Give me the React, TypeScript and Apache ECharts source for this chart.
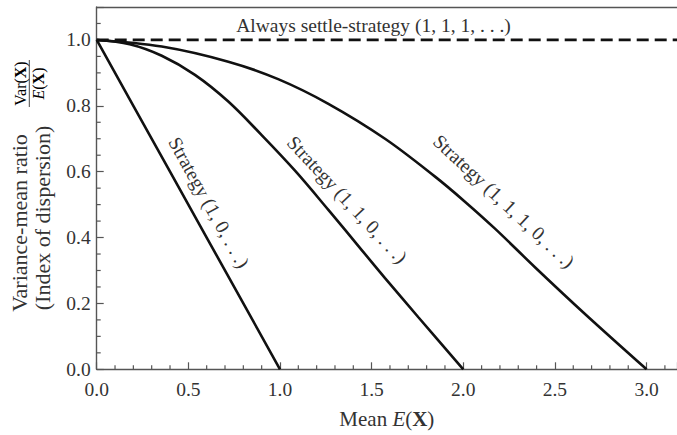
import React, { useEffect, useRef } from "react";
import * as echarts from "echarts";

// ---- data ----
const strategy10X = [0, 0.2, 0.4, 0.6, 0.8, 1.0];
const strategy10Y = [1.0, 0.8, 0.6, 0.4, 0.2, 0.0];

const strategy110X = [0, 0.18, 0.355, 0.536, 0.718, 0.9, 1.082, 1.264, 1.446, 1.573, 1.755, 2.0];
const strategy110Y = [1.0, 0.987, 0.952, 0.894, 0.813, 0.711, 0.603, 0.484, 0.362, 0.277, 0.158, 0.0];

const strategy1110X = [0, 0.355, 0.718, 0.99, 1.264, 1.573, 1.846, 2.009, 2.173, 2.391, 2.664, 3.0];
const strategy1110Y = [1.0, 0.98, 0.934, 0.881, 0.806, 0.7, 0.585, 0.509, 0.427, 0.31, 0.168, 0.0];

const settleX = [0, 3.166];
const settleY = [1.0, 1.0];

const xMajorTicks = [0, 0.5, 1.0, 1.5, 2.0, 2.5, 3.0];
const xMinorTicks = [0.1, 0.2, 0.3, 0.4, 0.6, 0.7, 0.8, 0.9, 1.1, 1.2, 1.3, 1.4, 1.6, 1.7, 1.8, 1.9, 2.1, 2.2, 2.3, 2.4, 2.6, 2.7, 2.8, 2.9, 3.1];
const yMajorTicks = [0, 0.2, 0.4, 0.6, 0.8, 1.0];
const yMinorTicks = [0.05, 0.1, 0.15, 0.25, 0.3, 0.35, 0.45, 0.5, 0.55, 0.65, 0.7, 0.75, 0.85, 0.9, 0.95, 1.05];

const X_MAX = 3.166;
const Y_MAX = 1.1;

const curveLabels = [
  { text: "Strategy (1, 0, . . .)", at: [0.612, 0.506], angle: -61 },
  { text: "Strategy (1, 1, 0, . . .)", at: [1.366, 0.515], angle: -47 },
  { text: "Strategy (1, 1, 1, 0, . . .)", at: [2.221, 0.51], angle: -43 },
];
const settleLabel = { text: "Always settle-strategy (1, 1, 1, . . .)", at: [1.51, 1.045] };

const SERIF = '"Liberation Serif", "DejaVu Serif", serif';
const AXIS_COLOR = "#555";
const TEXT_COLOR = "#333";
const LINE_COLOR = "#111";

const zip = (xs: number[], ys: number[]) => xs.map((x, i) => [x, ys[i]]);

export default function App() {
  const ref = useRef<HTMLDivElement>(null);

  useEffect(() => {
    const chart = echarts.init(ref.current!, null, { renderer: "svg" });

    const curveStyle = { color: LINE_COLOR, width: 2.6 };

    chart.setOption({
      animation: false,
      backgroundColor: "#fff",
      grid: { left: 96.7, top: 7, right: 0, bottom: 65.7, outerBoundsMode: "none" },
      xAxis: [
        {
          type: "value",
          min: 0,
          max: X_MAX,
          interval: 0.5,
          position: "bottom",
          axisLine: { show: true, lineStyle: { color: AXIS_COLOR, width: 1.4 } },
          axisTick: { show: true, inside: true, length: 7, lineStyle: { color: AXIS_COLOR, width: 1.2 } },
          axisLabel: {
            show: true,
            margin: 10,
            color: TEXT_COLOR,
            fontFamily: SERIF,
            fontSize: 19.5,
            formatter: (v: number) => (xMajorTicks.some((t) => Math.abs(t - v) < 1e-6) ? v.toFixed(1) : ""),
          },
          splitLine: { show: false },
          name: "{n|Mean }{i|E}{n|(}{b|X}{n|)}",
          nameLocation: "middle",
          nameGap: 39,
          nameTextStyle: {
            color: TEXT_COLOR,
            fontFamily: SERIF,
            fontSize: 21,
            rich: {
              n: { fontFamily: SERIF, fontSize: 21, color: TEXT_COLOR },
              i: { fontFamily: SERIF, fontSize: 21, fontStyle: "italic", color: TEXT_COLOR },
              b: { fontFamily: SERIF, fontSize: 21, fontWeight: "bold", color: TEXT_COLOR },
            },
          },
        },
        {
          type: "value",
          min: 0,
          max: X_MAX,
          position: "top",
          axisLine: { show: true, lineStyle: { color: AXIS_COLOR, width: 1.4 } },
          axisTick: { show: false },
          axisLabel: { show: false },
          splitLine: { show: false },
        },
      ],
      yAxis: {
        type: "value",
        min: 0,
        max: Y_MAX,
        interval: 0.2,
        axisLine: { show: true, lineStyle: { color: AXIS_COLOR, width: 1.4 } },
        axisTick: { show: true, inside: true, length: 7, lineStyle: { color: AXIS_COLOR, width: 1.2 } },
        axisLabel: {
          show: true,
          margin: 6,
          color: TEXT_COLOR,
          fontFamily: SERIF,
          fontSize: 19.5,
          formatter: (v: number) => (yMajorTicks.some((t) => Math.abs(t - v) < 1e-6) ? v.toFixed(1) : ""),
        },
        splitLine: { show: false },
      },
      series: [
        {
          type: "line",
          data: zip(settleX, settleY),
          symbol: "none",
          lineStyle: { color: LINE_COLOR, width: 2.8, type: [12, 6] },
          z: 3,
        },
        {
          type: "line",
          data: zip(strategy10X, strategy10Y),
          symbol: "none",
          lineStyle: curveStyle,
          z: 4,
        },
        {
          type: "line",
          data: zip(strategy110X, strategy110Y),
          symbol: "none",
          smooth: 0.35,
          lineStyle: curveStyle,
          z: 4,
        },
        {
          type: "line",
          data: zip(strategy1110X, strategy1110Y),
          symbol: "none",
          smooth: 0.35,
          lineStyle: curveStyle,
          z: 4,
        },
        {
          type: "custom",
          silent: true,
          clip: false,
          z: 6,
          data: xMinorTicks.map((v) => [v, 0]),
          renderItem: (_p: any, api: any) => {
            const p = api.coord([api.value(0), 0]);
            return {
              type: "line",
              shape: { x1: p[0], y1: p[1], x2: p[0], y2: p[1] - 4 },
              style: { stroke: AXIS_COLOR, lineWidth: 1.2 },
            };
          },
        },
        {
          type: "custom",
          silent: true,
          clip: false,
          z: 6,
          data: yMinorTicks.map((v) => [0, v]),
          renderItem: (_p: any, api: any) => {
            const p = api.coord([0, api.value(1)]);
            return {
              type: "line",
              shape: { x1: p[0], y1: p[1], x2: p[0] + 4, y2: p[1] },
              style: { stroke: AXIS_COLOR, lineWidth: 1.2 },
            };
          },
        },
      ],
    });

    const toPx = (c: number[]) => chart.convertToPixel({ gridIndex: 0 }, c) as number[];

    const graphics: any[] = [];
    curveLabels.forEach((l) => {
      const p = toPx(l.at);
      graphics.push({
        type: "text",
        x: p[0],
        y: p[1],
        rotation: (l.angle * Math.PI) / 180,
        z: 10,
        style: {
          text: l.text,
          font: `19.5px ${SERIF}`,
          fill: TEXT_COLOR,
          align: "center",
          verticalAlign: "middle",
        },
      });
    });
    const sp = toPx(settleLabel.at);
    graphics.push({
      type: "text",
      x: sp[0],
      y: sp[1],
      z: 10,
      style: {
        text: settleLabel.text,
        font: `19.5px ${SERIF}`,
        fill: TEXT_COLOR,
        align: "center",
        verticalAlign: "middle",
      },
    });

    // y-axis title (rotated)
    const rot = Math.PI / 2;
    graphics.push(
      {
        type: "text",
        x: 19.5,
        y: 223,
        rotation: rot,
        style: { text: "Variance-mean ratio", font: `22px ${SERIF}`, fill: TEXT_COLOR, align: "center", verticalAlign: "middle" },
      },
      {
        type: "text",
        x: 42,
        y: 218,
        rotation: rot,
        style: { text: "(Index of dispersion)", font: `22px ${SERIF}`, fill: TEXT_COLOR, align: "center", verticalAlign: "middle" },
      },
      {
        type: "text",
        x: 20,
        y: 83.5,
        rotation: rot,
        style: {
          text: "{a|Var(}{b|X}{a|)}",
          align: "center",
          verticalAlign: "middle",
          rich: {
            a: { fontFamily: SERIF, fontSize: 16, color: TEXT_COLOR },
            b: { fontFamily: SERIF, fontSize: 16, fontWeight: "bold", color: TEXT_COLOR },
          },
        },
      },
      {
        type: "line",
        shape: { x1: 29.3, y1: 60, x2: 29.3, y2: 107 },
        style: { stroke: TEXT_COLOR, lineWidth: 0.9 },
      },
      {
        type: "text",
        x: 38.5,
        y: 83.5,
        rotation: rot,
        style: {
          text: "{i|E}{a|(}{b|X}{a|)}",
          align: "center",
          verticalAlign: "middle",
          rich: {
            a: { fontFamily: SERIF, fontSize: 16, color: TEXT_COLOR },
            i: { fontFamily: SERIF, fontSize: 16, fontStyle: "italic", color: TEXT_COLOR },
            b: { fontFamily: SERIF, fontSize: 16, fontWeight: "bold", color: TEXT_COLOR },
          },
        },
      }
    );

    chart.setOption({ graphic: graphics });

    return () => chart.dispose();
  }, []);

  return (
    <div
      ref={ref}
      style={{ position: "absolute", left: 0, top: 0, width: 677, height: 435, background: "#fff" }}
    />
  );
}
